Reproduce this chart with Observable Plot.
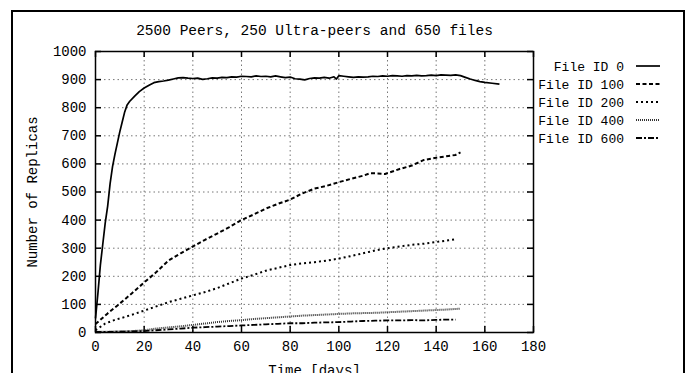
<!DOCTYPE html>
<html>
<head>
<meta charset="utf-8">
<script src="https://cdn.jsdelivr.net/npm/d3@7"></script>
<script src="https://cdn.jsdelivr.net/npm/@observablehq/plot@0.6"></script>
<style>
  html, body { margin: 0; padding: 0; background: #fff; width: 690px; height: 373px; overflow: hidden; }
  #page { position: relative; width: 690px; height: 373px; }
  #chart { position: absolute; left: 0; top: 0; }
</style>
</head>
<body>
<div id="page">
  <div id="chart"></div>
</div>
<script>
// Replica counts over time, as [day, replicas] pairs, one array per file
const file0 = [[0,50],[1,140],[2,240],[3,315],[4,390],[5,450],[6,530],[7,590],[8,635],[9,675],[10,715],[11,750],[12,785],[13,810],[14,822],[16,840],[18,857],[20,870],[22,880],[24,889],[26,893],[28,895],[30,898],[32,902],[34,906],[36,907],[38,905],[40,904],[42,905],[44,901],[46,903],[48,906],[50,905],[52,908],[54,907],[56,910],[58,909],[60,912],[62,911],[64,910],[66,913],[68,911],[70,912],[72,910],[74,913],[76,910],[78,907],[80,909],[82,903],[84,902],[86,899],[88,904],[90,906],[92,905],[94,908],[96,905],[98,910],[99,902],[100,914],[102,912],[104,910],[106,908],[108,910],[110,909],[112,910],[114,912],[116,911],[118,913],[120,912],[122,914],[124,913],[126,912],[128,914],[130,913],[132,915],[134,913],[136,914],[138,916],[140,914],[142,917],[144,916],[146,915],[148,917],[150,914],[152,908],[154,902],[156,897],[158,893],[160,890],[163,887],[166,884]];
const file100 = [[0,30],[5,68],[10,103],[15,140],[20,178],[25,215],[30,256],[35,282],[40,306],[45,330],[50,352],[55,375],[60,400],[65,420],[70,441],[75,458],[80,473],[85,495],[90,512],[95,522],[100,535],[105,547],[110,558],[113,567],[116,566],[119,564],[122,573],[125,582],[130,594],[135,614],[140,622],[145,628],[148,632],[150,641]];
const file200 = [[0,8],[4,32],[8,45],[12,55],[16,66],[20,78],[25,93],[30,108],[35,120],[40,132],[45,144],[50,158],[55,175],[60,192],[65,205],[70,220],[75,230],[80,240],[85,246],[90,250],[95,256],[100,263],[105,272],[110,282],[115,292],[120,300],[125,306],[130,312],[135,316],[140,322],[145,328],[148,332]];
const file400 = [[0,2],[5,3],[10,4],[15,5],[20,8],[25,14],[30,18],[35,22],[40,27],[45,32],[50,37],[55,41],[60,44],[65,48],[70,51],[75,54],[80,57],[85,60],[90,62],[95,64],[100,66],[105,68],[110,69],[115,70],[120,72],[125,74],[130,76],[135,78],[140,80],[145,82],[150,85]];
const file600 = [[0,2],[5,2],[10,3],[15,4],[20,5],[25,8],[30,11],[35,14],[40,17],[45,19],[50,21],[55,23],[60,25],[65,27],[70,29],[75,31],[80,33],[85,33],[90,35],[95,36],[100,37],[105,39],[110,41],[115,42],[120,43],[125,43],[130,44],[135,43],[140,45],[145,46],[148,46]];

const seriesNames = ["File ID 0", "File ID 100", "File ID 200", "File ID 400", "File ID 600"];
const seriesData = [file0, file100, file200, file400, file600];

const xTicks = [0, 20, 40, 60, 80, 100, 120, 140, 160, 180];
const yTicks = [0, 100, 200, 300, 400, 500, 600, 700, 800, 900, 1000];

const titleText = "2500 Peers, 250 Ultra-peers and 650 files";
const xLabel = "Time [days]";
const yLabel = "Number of Replicas";

// Line style for each series (solid, dashed, dotted, fine dotted, dash-dot)
const lineStyles = [
  {stroke: "#000", strokeWidth: 1.7, strokeDasharray: "none"},
  {stroke: "#000", strokeWidth: 2, strokeDasharray: "4,2.5"},
  {stroke: "#000", strokeWidth: 2, strokeDasharray: "2,3"},
  {stroke: "#333", strokeWidth: 2, strokeDasharray: "1,1"},
  {stroke: "#000", strokeWidth: 1.8, strokeDasharray: "6,2,2,2"}
];

const W = 690, H = 373;
const mLeft = 95, mRight = 157, mTop = 51, mBottom = 41;
const frameW = W - mLeft - mRight;
const frameH = H - mTop - mBottom;
const tickLen = 6;
const gridStyle = {stroke: "#777", strokeWidth: 1, strokeDasharray: "1.5,3"};

const rows = seriesData.map((pts, i) => pts.map(([day, replicas]) => ({series: seriesNames[i], day, replicas})));
const lineMarks = rows.map((data, i) => Plot.line(data, {
  x: "day", y: "replicas",
  stroke: lineStyles[i].stroke,
  strokeWidth: lineStyles[i].strokeWidth,
  strokeDasharray: lineStyles[i].strokeDasharray,
  strokeLinecap: "butt",
  strokeLinejoin: "round"
}));

const chart = Plot.plot({
  width: W, height: H,
  marginLeft: mLeft, marginRight: mRight, marginTop: mTop, marginBottom: mBottom,
  style: {fontFamily: "'Liberation Mono', monospace", fontSize: "14px", color: "#000", background: "transparent"},
  x: {domain: [0, 180]},
  y: {domain: [0, 1000]},
  marks: [
    Plot.ruleX(xTicks, {x: d => d, ...gridStyle}),
    Plot.ruleY(yTicks, {y: d => d, ...gridStyle}),
    // inward ticks on all four sides
    Plot.tickY(yTicks, {y: d => d, insetRight: frameW - tickLen, strokeWidth: 1.5}),
    Plot.tickY(yTicks, {y: d => d, insetLeft: frameW - tickLen, strokeWidth: 1.5}),
    Plot.tickX(xTicks, {x: d => d, insetTop: frameH - tickLen, strokeWidth: 1.5}),
    Plot.tickX(xTicks, {x: d => d, insetBottom: frameH - tickLen, strokeWidth: 1.5}),
    ...lineMarks,
    Plot.frame({stroke: "#000", strokeWidth: 1.5}),
    Plot.axisY(yTicks, {tickSize: 0, tickPadding: 9, label: null, tickFormat: d => `${d}`}),
    Plot.axisX(xTicks, {tickSize: 0, tickPadding: 9, label: null, tickFormat: d => `${d}`}),
    Plot.text([titleText], {frameAnchor: "top", dy: -21, lineAnchor: "middle", textAnchor: "middle", fontSize: 14.5}),
    Plot.text([yLabel], {frameAnchor: "left", rotate: -90, dx: -63, lineAnchor: "middle", textAnchor: "middle"}),
    Plot.text([xLabel], {frameAnchor: "bottom", dy: 38, lineAnchor: "middle", textAnchor: "middle"})
  ]
});
document.getElementById("chart").appendChild(chart);

// Outer border and key, added inside the chart's own SVG
const svg = d3.select(chart);
svg.append("rect")
  .attr("x", 12).attr("y", 11).attr("width", 672).attr("height", 400)
  .attr("fill", "none").attr("stroke", "#000").attr("stroke-width", 2);
const key = svg.append("g")
  .attr("font-family", "'Liberation Mono', monospace")
  .attr("font-size", 13);
const keyRows = key.selectAll("g").data(seriesNames).join("g")
  .attr("transform", (d, i) => `translate(0,${66 + i * 18})`);
keyRows.append("text")
  .attr("x", 624).attr("dy", "0.35em").attr("text-anchor", "end").attr("fill", "#000")
  .text(d => d);
keyRows.append("line")
  .attr("x1", 636).attr("x2", 660).attr("y1", 0).attr("y2", 0)
  .attr("stroke", (d, i) => lineStyles[i].stroke)
  .attr("stroke-width", (d, i) => lineStyles[i].strokeWidth)
  .attr("stroke-dasharray", (d, i) => lineStyles[i].strokeDasharray);
</script>
</body>
</html>
